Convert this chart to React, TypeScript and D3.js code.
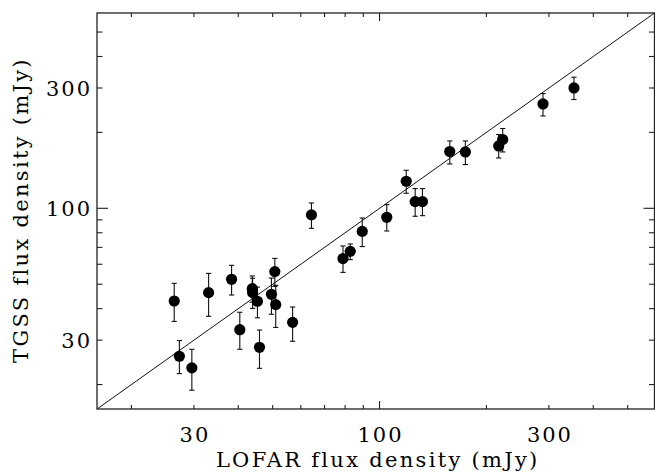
import React from "react";
import * as d3 from "d3";

// LOFAR flux density (mJy), x values
const lofar = [26.4, 33.0, 38.3, 43.8, 43.9, 45.3, 50.7, 49.6, 51.0, 56.9, 40.4, 45.9, 27.3, 29.6, 64.3, 78.9, 82.7, 89.4, 104.8, 118.9, 126.0, 132.1, 157.7, 174.5, 216.6, 222.3, 288.7, 352.9];
// TGSS flux density (mJy), y values
const tgss = [42.9, 46.3, 52.3, 48.0, 46.3, 42.8, 56.1, 45.6, 41.5, 35.3, 33.0, 28.1, 25.9, 23.3, 94.2, 63.2, 67.5, 81.0, 92.1, 128.0, 106.3, 106.3, 167.9, 167.3, 176.7, 187.4, 259.4, 300.2];
const tgssLow = [35.6, 37.3, 45.3, 42.4, 40.1, 36.8, 49.0, 38.0, 33.7, 29.7, 27.6, 23.2, 22.1, 19.0, 83.3, 55.7, 62.6, 70.5, 81.3, 114.7, 93.0, 93.5, 149.9, 149.1, 158.4, 167.3, 232.4, 270.0];
const tgssHigh = [50.4, 55.2, 59.4, 53.9, 52.8, 48.7, 63.3, 52.9, 49.5, 40.6, 38.7, 32.9, 29.9, 27.6, 105.0, 70.9, 72.2, 91.5, 103.4, 141.5, 119.7, 119.7, 185.0, 185.0, 196.1, 207.2, 285.2, 331.0];

const axisDomain = [16, 595];
const tickValues = [20, 30, 40, 50, 60, 70, 80, 90, 100, 200, 300, 400, 500];
const majorTicks = [100];
const labelTicks = [30, 100, 300];
const xTitle = "LOFAR flux density (mJy)";
const yTitle = "TGSS flux density (mJy)";

const W = 655, H = 475;
const L = 97, R = 654.5, T = 13, B = 409;

export default function App() {
  const x = d3.scaleLog().domain(axisDomain).range([L, R]);
  const y = d3.scaleLog().domain(axisDomain).range([B, T]);
  const font = "'DejaVu Serif', serif";
  const axisColor = "#222";
  const lineGen = d3.line<number>().x((d) => x(d)).y((d) => y(d));

  return (
    <svg width={W} height={H} style={{ position: "absolute", left: 0, top: 0, background: "#fff" }}>
      <rect x={0} y={0} width={W} height={H} fill="#fff" />
      {/* one-to-one line */}
      <path d={lineGen(axisDomain) || ""} stroke="#111" strokeWidth={1} fill="none" />
      {/* error bars */}
      {lofar.map((v, i) => {
        const cx = x(v);
        const y1 = y(tgssLow[i]);
        const y2 = y(tgssHigh[i]);
        return (
          <g key={"e" + i} stroke="#111" strokeWidth={1.1}>
            <line x1={cx} x2={cx} y1={y1} y2={y2} />
            <line x1={cx - 2.6} x2={cx + 2.6} y1={y1} y2={y1} />
            <line x1={cx - 2.6} x2={cx + 2.6} y1={y2} y2={y2} />
          </g>
        );
      })}
      {/* points */}
      {lofar.map((v, i) => (
        <circle key={"p" + i} cx={x(v)} cy={y(tgss[i])} r={5.6} fill="#000" />
      ))}
      {/* frame */}
      <rect x={L} y={T} width={R - L} height={B - T} fill="none" stroke={axisColor} strokeWidth={1.3} />
      {/* x ticks (bottom and top) */}
      {tickValues.map((t) => {
        const len = majorTicks.includes(t) ? 8 : 4;
        const px = x(t);
        return (
          <g key={"xt" + t} stroke={axisColor} strokeWidth={1.1}>
            <line x1={px} x2={px} y1={B} y2={B - len} />
            <line x1={px} x2={px} y1={T} y2={T + len} />
          </g>
        );
      })}
      {/* y ticks (left and right) */}
      {tickValues.map((t) => {
        const len = majorTicks.includes(t) ? 11 : 5.5;
        const py = y(t);
        return (
          <g key={"yt" + t} stroke={axisColor} strokeWidth={1.1}>
            <line x1={L} x2={L + len} y1={py} y2={py} />
            <line x1={R} x2={R - len} y1={py} y2={py} />
          </g>
        );
      })}
      {/* tick labels */}
      {labelTicks.map((t) => (
        <text key={"xl" + t} x={x(t) + 1} y={442} textAnchor="middle" fontFamily={font} fontSize={21} letterSpacing={2} fill="#000">
          {t}
        </text>
      ))}
      {labelTicks.map((t) => (
        <text key={"yl" + t} x={92} y={y(t) + 8} textAnchor="end" fontFamily={font} fontSize={21} letterSpacing={2} fill="#000">
          {t}
        </text>
      ))}
      {/* titles */}
      <text x={(L + R) / 2 + 2} y={467} textAnchor="middle" fontFamily={font} fontSize={21} letterSpacing={2.3} fill="#000">
        {xTitle}
      </text>
      <text transform={`translate(28,${(T + B) / 2 - 1}) rotate(-90)`} textAnchor="middle" fontFamily={font} fontSize={21} letterSpacing={2.3} fill="#000">
        {yTitle}
      </text>
    </svg>
  );
}
